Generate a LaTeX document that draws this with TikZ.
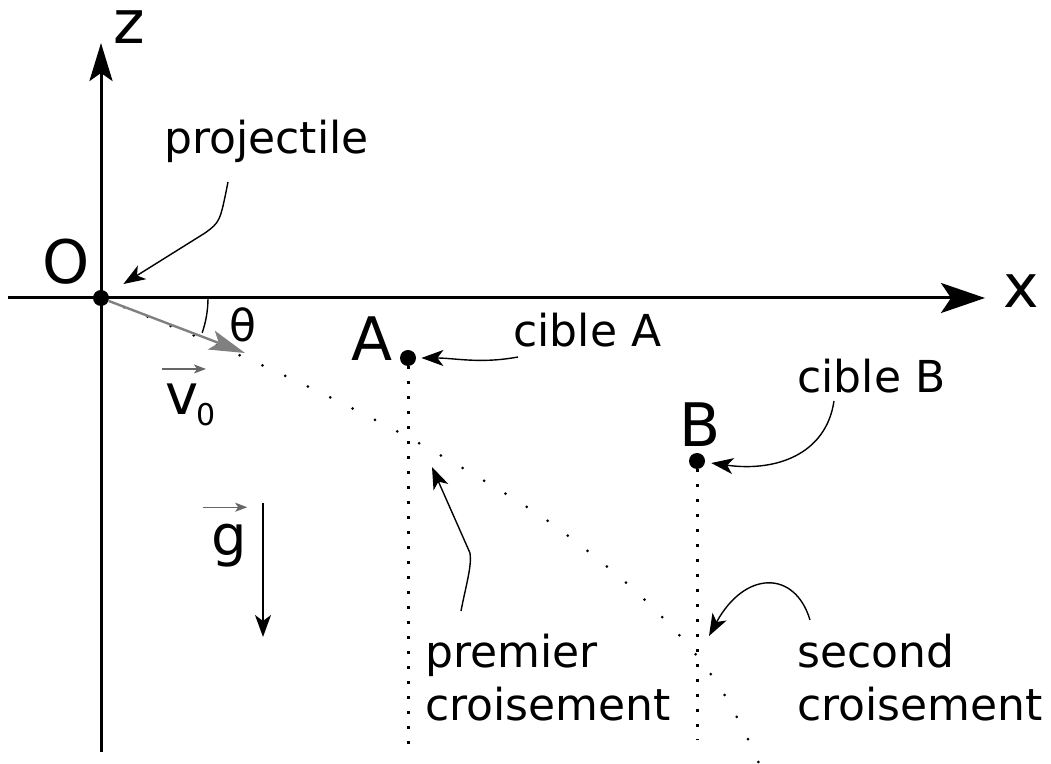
\documentclass[tikz,border=0pt]{standalone}
\usepackage{fontspec}
\setmainfont{DejaVu Sans}
\usetikzlibrary{arrows.meta}

\begin{document}
\begin{tikzpicture}[x=0.5pt, y=-0.5pt,
  axis/.style={line width=1.5pt, -{Stealth[length=19pt,width=11.5pt,inset=4pt]}},
  annot/.style={line width=0.7pt, -{Stealth[length=11pt,width=8pt,inset=3pt]}},
  vecarrow/.style={line width=0.6pt, draw=black!60, -{Stealth[length=6pt,width=4.5pt,inset=1.5pt]}},
  dot/.style={circle, fill, inner sep=0pt, minimum size=8pt},
  lbl/.style={font=\fontsize{22}{26.5}\selectfont, inner sep=0pt},
  letter/.style={font=\fontsize{30}{36}\selectfont, inner sep=0pt},
  vline/.style={line width=1.5pt, dash pattern=on 1.5pt off 6pt},
  traj/.style={line width=1.5pt, line cap=round, dash pattern=on 0pt off 12.5pt}
]
  \useasboundingbox (0,0) rectangle (1051,764);

  % axes
  \coordinate (xstart) at (8,298);
  \coordinate (xend) at (985,298);
  \coordinate (zstart) at (101,752);
  \coordinate (zend) at (101,43);
  \draw[axis, -{Stealth[length=22pt,width=15pt,inset=5pt]}] (xstart) -- (xend);
  \draw[axis] (zstart) -- (zend);
  \node[letter] (xlab) at (1021,291) {x};
  \node[letter] (zlab) at (129,27) {z};

  % trajectory
  \draw[traj] plot[smooth] coordinates {(101,298) (207,341) (307,386) (404,435)
    (476,476) (545,519) (610,569) (651,606) (688,645) (721,689) (747,737) (760,766)};

  % points
  \node[dot] (O) at (101,298) {};
  \node[dot] (A) at (408,358) {};
  \node[dot] (B) at (697,461) {};
  \node[letter] (Olab) at (66,262) {O};
  \node[letter] (Alab) at (372,339) {A};
  \node[letter] (Blab) at (700,425) {B};

  % verticals under the targets
  \coordinate (Afoot) at (408,752);
  \coordinate (Bfoot) at (697,740);
  \draw[vline] (A) -- (Afoot);
  \draw[vline] (B) -- (Bfoot);

  % initial speed and angle
  \coordinate (v0tip) at (245,353);
  \draw[line width=1.2pt, color=gray, -{Stealth[length=18pt,width=10pt,inset=4pt]}] (O) -- (v0tip);
  \draw[line width=0.7pt] (O) ++(107,0) arc[start angle=0, end angle=19, radius=107];
  \node[lbl] (theta) at (243,325) {θ};
  \node[font=\fontsize{28}{32}\selectfont, inner sep=0pt, anchor=base] (v) at (182,415) {v};
  \node[font=\fontsize{15}{18}\selectfont, inner sep=0pt] (vsub) at (206,415) {0};
  \draw[vecarrow] ([shift={(-3,-15)}]v.north west) -- ([shift={(7,-15)}]v.north east);

  % gravity
  \node[font=\fontsize{28}{32}\selectfont, inner sep=0pt, anchor=base] (g) at (229,556) {g};
  \draw[vecarrow] ([shift={(-8,-17)}]g.north west) -- ([shift={(0,-17)}]g.north east);
  \coordinate (gtop) at (263,503);
  \coordinate (gbot) at (263,637);
  \draw[annot] (gtop) -- (gbot);

  % labels
  \node[lbl, anchor=base west] (projectile) at (164,154) {projectile};
  \node[lbl, anchor=base west] (cibleA) at (513,347) {cible A};
  \node[lbl, anchor=base west] (cibleB) at (797,393) {cible B};
  \node[lbl, anchor=base west, align=left] (premier) at (425,721) {premier\\croisement};
  \node[lbl, anchor=base west, align=left] (second) at (797,721) {second\\croisement};

  % annotation arrows
  \coordinate (projtail) at (228,182);
  \coordinate (cibleAtail) at (518,357);
  \coordinate (cibleBtail) at (834,401);
  \coordinate (premtail) at (461,611);
  \coordinate (cross1) at (432,467);
  \coordinate (sectail) at (810,620);
  \coordinate (cross2) at (709,636);
  \draw[annot, shorten >=9pt] (projtail) .. controls (220,222) .. (205,233) -- (O);
  \draw[annot, shorten >=2.5pt] (cibleAtail) .. controls (480,364) and (455,358) .. (A);
  \draw[annot, shorten >=3pt] (cibleBtail) .. controls (826,455) and (775,472) .. (B);
  \draw[annot] (premtail) .. controls (466,585) and (472,566) .. (470,553) -- (cross1);
  \draw[annot] (sectail) .. controls (795,570) and (745,570) .. (cross2);
\end{tikzpicture}
\end{document}
